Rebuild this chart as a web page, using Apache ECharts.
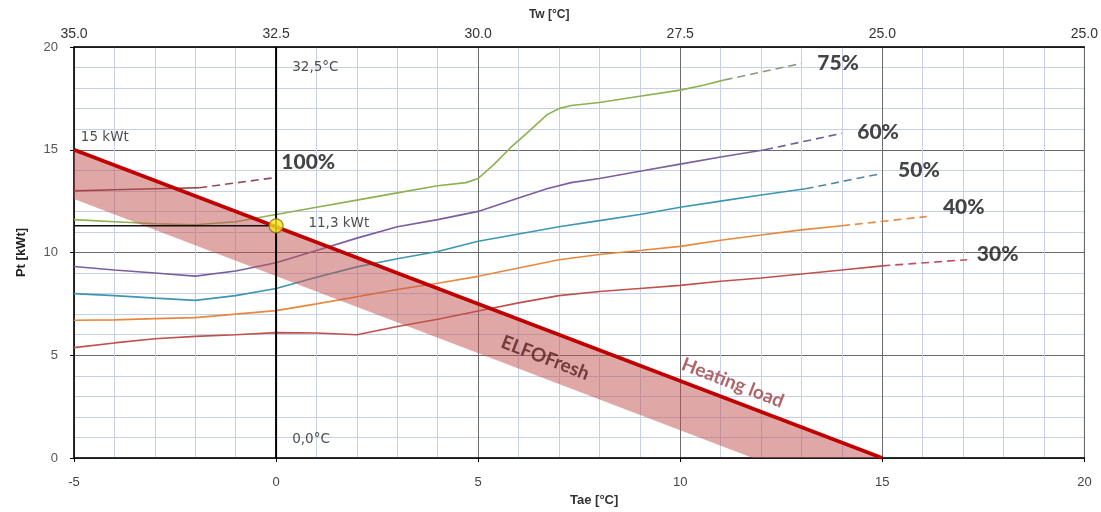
<!DOCTYPE html>
<html>
<head>
<meta charset="utf-8">
<script src="https://cdn.jsdelivr.net/npm/echarts@6/dist/echarts.min.js"></script>
<style>
html,body{margin:0;padding:0;background:#fff;}
#chart{width:1101px;height:512px;}
</style>
</head>
<body>
<div id="chart"></div>
<script>
// ---- data ----
const taeTicks = [-5, 0, 5, 10, 15, 20];
const twTickLabels = ['35.0', '32.5', '30.0', '27.5', '25.0', '25.0'];

const c100Solid = [[-5,13.0],[-4,13.05],[-3,13.1],[-1.9,13.15]];
const c100Dash  = [[-1.9,13.15],[0,13.65]];

const c75Solid = [[-5,11.6],[-4,11.5],[-3,11.4],[-2,11.35],[-1,11.5],[0,11.85],[1,12.2],[2,12.55],[3,12.9],[4,13.25],[4.7,13.4],[5,13.6],[5.4,14.3],[5.8,15.1],[6.2,15.8],[6.7,16.7],[7.0,17.0],[7.3,17.15],[8,17.3],[9,17.6],[10,17.9],[10.6,18.15],[11.1,18.4]];
const c75Dash  = [[11.1,18.4],[13,19.2]];

const c60Solid = [[-5,9.32],[-4,9.15],[-3,9.0],[-2,8.85],[-1,9.1],[0,9.5],[1,10.1],[2,10.7],[3,11.25],[4,11.6],[5,12.0],[6,12.65],[6.7,13.1],[7.3,13.4],[8,13.6],[9,13.95],[10,14.3],[11,14.65],[12.1,15.0]];
const c60Dash  = [[12.1,15.0],[14,15.8]];

const c50Solid = [[-5,8.0],[-4,7.9],[-3,7.78],[-2,7.67],[-1,7.9],[0,8.25],[1,8.8],[2,9.3],[3,9.7],[4,10.05],[5,10.55],[6,10.9],[7,11.25],[8,11.55],[9,11.85],[10,12.2],[11,12.5],[12,12.8],[13.1,13.1]];
const c50Dash  = [[13.1,13.1],[15,13.85]];

const c40Solid = [[-5,6.7],[-4,6.72],[-3,6.78],[-2,6.83],[-1,7.0],[0,7.17],[1,7.5],[2,7.85],[3,8.2],[4,8.5],[5,8.84],[6,9.25],[7,9.65],[8,9.9],[9,10.1],[10,10.3],[11,10.6],[12,10.85],[13,11.1],[14,11.3]];
const c40Dash  = [[14,11.3],[16.1,11.75]];

const c30Solid = [[-5,5.37],[-4,5.6],[-3,5.8],[-2,5.92],[-1,6.0],[0,6.1],[1,6.08],[2,6.0],[3,6.4],[4,6.75],[5,7.15],[6,7.55],[7,7.9],[8,8.1],[9,8.25],[10,8.4],[11,8.6],[12,8.76],[13,8.95],[14,9.15],[15,9.35]];
const c30Dash  = [[15,9.35],[17.1,9.65]];

const heatingLoad = [[-5,15],[15,0]];
const elfoLower   = [[-5,12.6],[11.8,0]];
const designPoint = [0, 11.3];
const refVertical = [[0,0],[0,20]];
const refHorizontal = [[-5,11.3],[0,11.3]];

// ---- chart ----
const chart = echarts.init(document.getElementById('chart'));
const bandPolygon = heatingLoad.concat(elfoLower.slice().reverse());

function curve(data, color, dashed) {
  return {
    type: 'line', data: data, showSymbol: false, symbol: 'none', smooth: false,
    lineStyle: { color: color, width: 1.6, type: dashed ? [8, 5] : 'solid' },
    z: 3, silent: true
  };
}
function textMark(text, pt, style, rotate, pos) {
  return {
    type: 'scatter', data: [pt], symbolSize: 0, silent: true, z: 10,
    label: Object.assign({
      show: true, formatter: text, position: pos || 'right', distance: 0,
      rotate: rotate || 0
    }, style)
  };
}
const small = { fontFamily: 'DejaVu Sans', fontSize: 13.5, color: '#222' };
const pct = { fontFamily: 'Lato', fontWeight: 900, fontSize: 21, color: '#151515' };

const option = {
  animation: false,
  backgroundColor: '#fff',
  grid: { left: 74, right: 13, top: 47, bottom: 50, show: true, borderColor: '#7f7f7f', borderWidth: 1 },
  xAxis: [
    {
      type: 'value', min: -5, max: 20, interval: 5, position: 'bottom',
      name: 'Tae [°C]', nameLocation: 'middle', nameGap: 36,
      nameTextStyle: { fontFamily: 'Liberation Sans', fontWeight: 'bold', fontSize: 13, color: '#333', padding: [0,0,0,30] },
      axisLine: { show: true, onZero: false, lineStyle: { color: '#000', width: 1.5 } },
      axisTick: { show: true, length: 4, lineStyle: { color: '#000' } },
      axisLabel: { margin: 18, fontFamily: 'Liberation Sans', fontSize: 13, color: '#444',
        formatter: v => String(taeTicks[taeTicks.indexOf(v)]) },
      splitLine: { show: true, lineStyle: { color: '#6a6a6a', width: 1 } },
      minorTick: { show: false, splitNumber: 5 },
      minorSplitLine: { show: true, lineStyle: { color: '#c5d0e6', width: 1 } }
    },
    {
      type: 'value', min: -5, max: 20, interval: 5, position: 'top',
      name: 'Tw [°C]', nameLocation: 'middle', nameGap: 26,
      nameTextStyle: { fontFamily: 'Liberation Sans', fontWeight: 'bold', fontSize: 12, color: '#333', padding: [0,0,0,-60] },
      axisLine: { show: true, onZero: false, lineStyle: { color: '#000', width: 1.5 } },
      axisTick: { show: false },
      axisLabel: { margin: 6, fontFamily: 'Liberation Sans', fontSize: 14, color: '#333',
        formatter: v => twTickLabels[taeTicks.indexOf(v)] },
      splitLine: { show: false }
    }
  ],
  yAxis: [
    {
      type: 'value', min: 0, max: 20, interval: 5,
      name: 'Pt [kWt]', nameLocation: 'middle', nameGap: 46, nameRotate: 90,
      nameTextStyle: { fontFamily: 'Liberation Sans', fontWeight: 'bold', fontSize: 13, color: '#222' },
      axisLine: { show: true, onZero: false, lineStyle: { color: '#000', width: 1.5 } },
      axisTick: { show: true, length: 4, lineStyle: { color: '#000' } },
      axisLabel: { margin: 16, fontFamily: 'Liberation Sans', fontSize: 13, color: '#555' },
      splitLine: { show: true, lineStyle: { color: '#6a6a6a', width: 1 } },
      minorTick: { show: false, splitNumber: 5 },
      minorSplitLine: { show: true, lineStyle: { color: '#c5d0e6', width: 1 } }
    }
  ],
  series: [
    curve(c100Solid, '#8a3d45', false), curve(c100Dash, '#8e4a5a', true),
    curve(c75Solid, '#8db14f', false), curve(c75Dash, '#8b9a7a', true),
    curve(c60Solid, '#7a5ea0', false), curve(c60Dash, '#6f5e8f', true),
    curve(c50Solid, '#3c96b4', false), curve(c50Dash, '#4a8aa0', true),
    curve(c40Solid, '#e8883e', false), curve(c40Dash, '#e8883e', true),
    curve(c30Solid, '#c0504d', false), curve(c30Dash, '#b95060', true),
    {
      type: 'custom', silent: true, z: 4,
      data: [bandPolygon[0]],
      encode: { x: 0, y: 1 },
      renderItem: function (params, api) {
        const pts = bandPolygon.map(p => api.coord(p));
        return { type: 'polygon', shape: { points: pts }, style: { fill: 'rgba(192,80,77,0.5)' } };
      }
    },
    {
      type: 'line', data: heatingLoad, symbol: 'none', silent: true, z: 5,
      lineStyle: { color: '#c00000', width: 3.5 }
    },
    {
      type: 'line', data: refVertical, symbol: 'none', silent: true, z: 6,
      lineStyle: { color: '#000', width: 2 }
    },
    {
      type: 'line', data: refHorizontal, symbol: 'none', silent: true, z: 6,
      lineStyle: { color: '#111', width: 1.6 }
    },
    {
      type: 'scatter', data: [designPoint], symbol: 'circle', symbolSize: 14, silent: true, z: 8,
      itemStyle: { color: '#f7e41b', borderColor: '#8a6d00', borderWidth: 1.2 }
    },
    textMark('32,5°C', [0.4, 19.0], small),
    textMark('0,0°C', [0.4, 0.9], small),
    textMark('15 kWt', [-4.83, 15.6], small),
    textMark('11,3 kWt', [0.8, 11.42], small),
    textMark('100%', [0.13, 14.4], pct),
    textMark('75%', [13.39, 19.2], pct),
    textMark('60%', [14.38, 15.86], pct),
    textMark('50%', [15.39, 14.0], pct),
    textMark('40%', [16.5, 12.2], pct),
    textMark('30%', [17.34, 9.9], pct),
    textMark('ELFOFresh', [6.66, 4.87], { fontFamily: 'Lato', fontWeight: 'bold', fontSize: 19, color: '#5a2020' }, -21, 'inside'),
    textMark('Heating load', [11.3, 3.66], { fontFamily: 'Lato', fontWeight: 'bold', fontSize: 19, color: '#9c3e44' }, -21, 'inside')
  ]
};
chart.setOption(option);
</script>
</body>
</html>
